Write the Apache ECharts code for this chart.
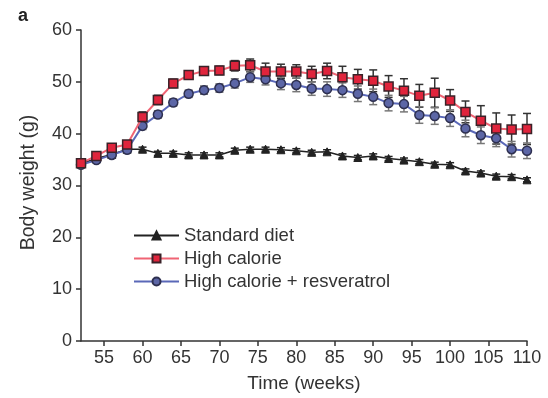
<!DOCTYPE html>
<html>
<head>
<meta charset="utf-8">
<script src="https://cdn.jsdelivr.net/npm/echarts@6/dist/echarts.min.js"></script>
<style>
  html, body { margin: 0; padding: 0; background: #fff; }
  #main { width: 548px; height: 398px; }
</style>
</head>
<body>
<div id="main"></div>
<script>
// weeks sampled every 2 weeks
var weeks = [52,54,56,58,60,62,64,66,68,70,72,74,76,78,80,82,84,86,88,90,92,94,96,98,100,102,104,106,108,110];
var xTicks = [55,60,65,70,75,80,85,90,95,100,105,110];

var standardDiet = [34.2,35.2,36.0,37.0,37.0,36.2,36.2,35.9,35.9,35.9,36.8,37.0,37.0,36.9,36.7,36.4,36.5,35.7,35.4,35.7,35.2,34.9,34.6,34.1,34.0,32.8,32.4,31.8,31.7,31.1];
var standardErr  = [0.4,0.4,0.4,0.4,0.4,0.4,0.4,0.4,0.4,0.4,0.4,0.4,0.4,0.4,0.4,0.4,0.4,0.4,0.4,0.4,0.4,0.4,0.4,0.4,0.4,0.4,0.4,0.4,0.4,0.4];

var highCal    = [34.3,35.7,37.3,37.9,43.2,46.5,49.7,51.3,52.1,52.2,53.1,53.2,52.0,52.0,52.0,51.5,52.1,50.9,50.5,50.2,49.1,48.3,47.3,47.9,46.4,44.2,42.5,41.0,40.8,40.9];
var highCalErr = [0.6,0.6,0.6,0.6,1.0,0.9,0.8,0.8,0.7,0.8,1.0,1.2,1.6,1.4,1.3,1.5,1.5,2.1,1.9,2.1,2.1,2.3,2.2,2.8,2.1,2.1,2.9,3.0,2.8,3.0];

var highCalRes    = [34.0,34.9,35.9,36.9,41.5,43.7,46.0,47.7,48.4,48.8,49.7,50.9,50.5,49.7,49.4,48.7,48.6,48.4,47.7,47.1,45.9,45.7,43.6,43.4,43.0,41.0,39.7,39.1,37.0,36.7];
var highCalResErr = [0.5,0.5,0.5,0.5,0.7,0.7,0.7,0.7,0.8,0.8,0.9,1.0,1.1,1.2,1.3,1.3,1.4,1.4,1.5,1.5,1.5,1.5,1.6,1.6,1.6,1.6,1.6,1.6,1.5,1.5];

function pairs(vals) {
  return weeks.map(function (w, i) { return [w, vals[i]]; });
}
function errData(vals, errs) {
  return weeks.map(function (w, i) { return [w, vals[i] - errs[i], vals[i] + errs[i]]; });
}
function errSeries(vals, errs, color) {
  return {
    type: 'custom',
    silent: true,
    z: 1,
    data: errData(vals, errs),
    renderItem: function (params, api) {
      var lo = api.coord([api.value(0), api.value(1)]);
      var hi = api.coord([api.value(0), api.value(2)]);
      var hw = 4;
      var st = { stroke: color, lineWidth: 1.5 };
      return {
        type: 'group',
        children: [
          { type: 'line', shape: { x1: lo[0], y1: lo[1], x2: hi[0], y2: hi[1] }, style: st },
          { type: 'line', shape: { x1: lo[0] - hw, y1: lo[1], x2: lo[0] + hw, y2: lo[1] }, style: st },
          { type: 'line', shape: { x1: hi[0] - hw, y1: hi[1], x2: hi[0] + hw, y2: hi[1] }, style: st }
        ]
      };
    }
  };
}

var font = 'Liberation Sans, Arial, sans-serif';
var myChart = echarts.init(document.getElementById('main'));
var option = {
  animation: false,
  backgroundColor: '#fff',
  title: {
    text: 'a', left: 13, top: 2,
    textStyle: { fontSize: 18, fontWeight: 'bold', color: '#222', fontFamily: font }
  },
  grid: { left: 81, top: 30, right: 21, bottom: 57 },
  legend: {
    orient: 'vertical',
    left: 128, top: 221,
    itemWidth: 45, itemHeight: 10, itemGap: 4,
    textStyle: { fontSize: 18.5, color: '#333', fontFamily: font },
    data: ['Standard diet', 'High calorie', 'High calorie + resveratrol']
  },
  xAxis: {
    type: 'value', min: 52, max: 110,
    name: 'Time (weeks)', nameLocation: 'middle', nameGap: 33,
    nameTextStyle: { fontSize: 19, color: '#333', fontFamily: font },
    splitLine: { show: false },
    axisLine: { lineStyle: { color: '#333', width: 1.5 } },
    axisTick: { customValues: xTicks, length: 5, lineStyle: { color: '#333', width: 1.5 } },
    axisLabel: { customValues: xTicks, fontSize: 18, color: '#333', margin: 8, fontFamily: font }
  },
  yAxis: {
    type: 'value', min: 0, max: 60, interval: 10,
    name: 'Body weight (g)', nameLocation: 'middle', nameGap: 42,
    nameTextStyle: { fontSize: 19.5, color: '#333', fontFamily: font, padding: [0, 0, 0, 6] },
    splitLine: { show: false },
    axisLine: { show: true, lineStyle: { color: '#333', width: 1.5 } },
    axisTick: { show: true, length: 5, lineStyle: { color: '#333', width: 1.5 } },
    axisLabel: { fontSize: 18, color: '#333', margin: 9, fontFamily: font }
  },
  series: [
    errSeries(standardDiet, standardErr, '#222'),
    errSeries(highCal, highCalErr, '#333'),
    errSeries(highCalRes, highCalResErr, '#777'),
    {
      name: 'Standard diet', type: 'line', z: 3,
      data: pairs(standardDiet),
      symbol: 'triangle', symbolSize: 8,
      lineStyle: { color: '#222', width: 1.5 },
      itemStyle: { color: '#222', borderColor: '#222', borderWidth: 1 }
    },
    {
      name: 'High calorie', type: 'line', z: 4,
      data: pairs(highCal),
      symbol: 'rect', symbolSize: 9,
      lineStyle: { color: '#f06474', width: 2 },
      itemStyle: { color: '#e0243c', borderColor: '#3a2228', borderWidth: 1.5 }
    },
    {
      name: 'High calorie + resveratrol', type: 'line', z: 3,
      data: pairs(highCalRes),
      symbol: 'circle', symbolSize: 9,
      lineStyle: { color: '#5a68b8', width: 2 },
      itemStyle: { color: '#5c66a6', borderColor: '#2e3050', borderWidth: 1.5 }
    }
  ]
};
myChart.setOption(option);
</script>
</body>
</html>
